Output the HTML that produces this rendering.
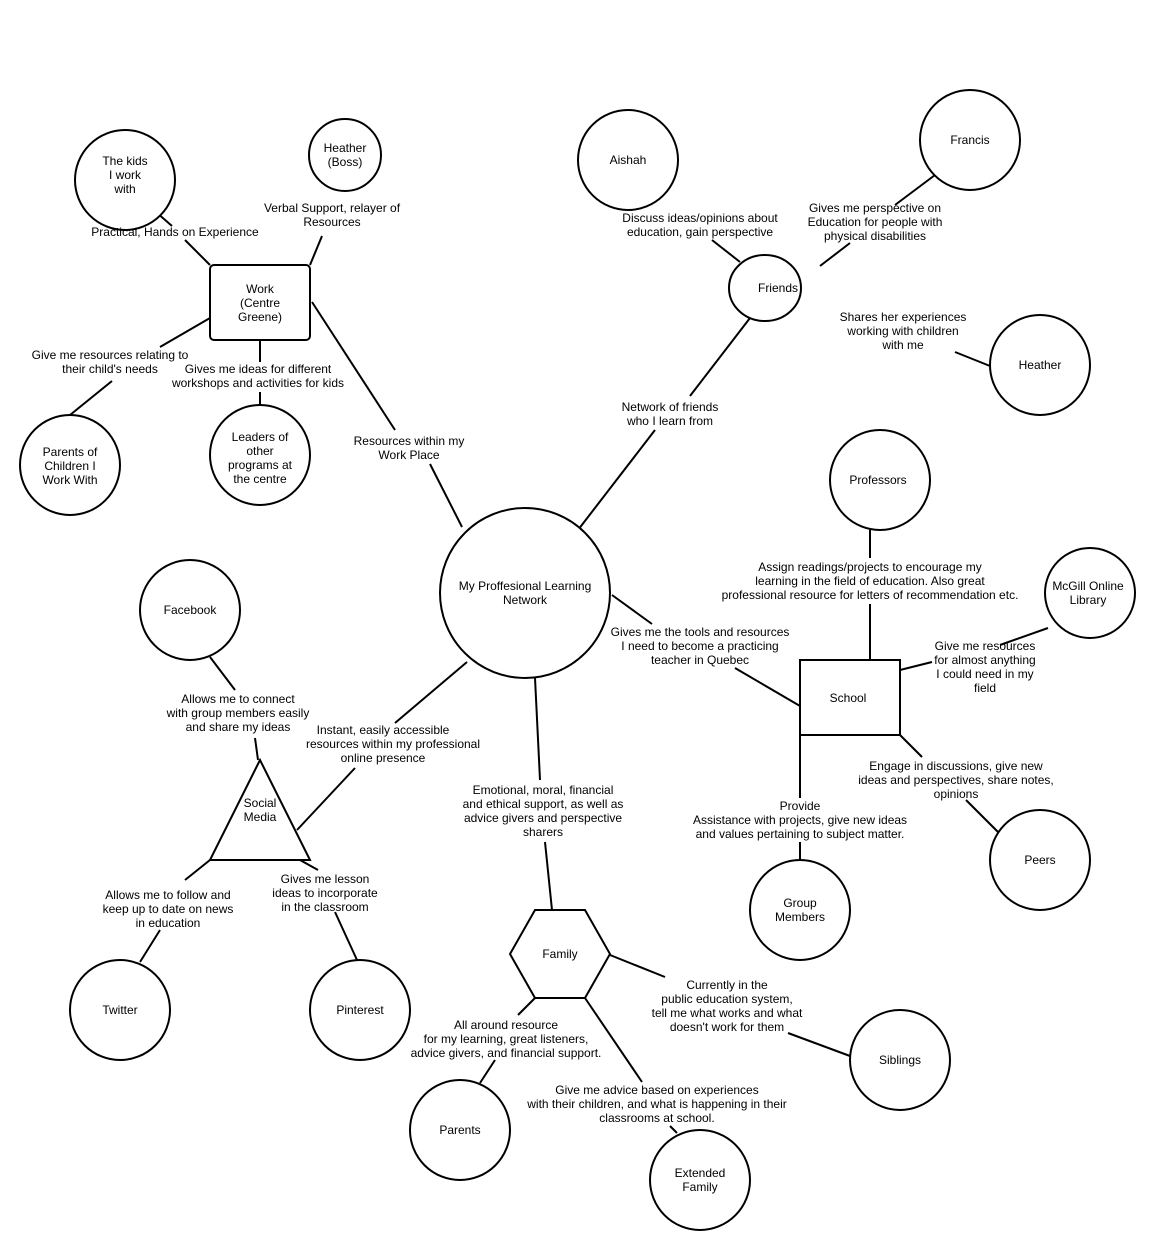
<!DOCTYPE html>
<html><head><meta charset="utf-8"><style>
html,body{margin:0;padding:0;background:#fff}
svg text{font-family:"Liberation Sans",Arial,sans-serif;font-size:12px;fill:#000;text-anchor:middle}
</style></head><body>
<svg width="1166" height="1250" xmlns="http://www.w3.org/2000/svg">
<g stroke="#000" stroke-width="2" fill="none">
<!-- connectors -->
<line x1="148" y1="205" x2="172" y2="226"/><line x1="185" y1="240" x2="210" y2="265"/>
<line x1="322" y1="236" x2="310" y2="265"/>
<line x1="210" y1="318" x2="160" y2="347"/><line x1="112" y1="381" x2="70" y2="415"/>
<line x1="260" y1="340" x2="260" y2="362"/><line x1="260" y1="392" x2="260" y2="405"/>
<line x1="312" y1="302" x2="395" y2="430"/><line x1="430" y1="464" x2="462" y2="527"/>
<line x1="712" y1="240" x2="740" y2="262"/>
<line x1="935" y1="175" x2="895" y2="205"/><line x1="850" y1="243" x2="820" y2="266"/>
<line x1="955" y1="352" x2="990" y2="366"/>
<line x1="750" y1="318" x2="690" y2="396"/><line x1="655" y1="430" x2="578" y2="530"/>
<line x1="870" y1="530" x2="870" y2="558"/><line x1="870" y1="604" x2="870" y2="660"/>
<line x1="1048" y1="628" x2="1000" y2="645"/><line x1="932" y1="662" x2="900" y2="670"/>
<line x1="612" y1="595" x2="652" y2="624"/><line x1="735" y1="668" x2="800" y2="706"/>
<line x1="900" y1="735" x2="922" y2="757"/><line x1="966" y1="800" x2="998" y2="832"/>
<line x1="800" y1="735" x2="800" y2="798"/><line x1="800" y1="842" x2="800" y2="860"/>
<line x1="535" y1="678" x2="540" y2="780"/><line x1="545" y1="842" x2="552" y2="910"/>
<line x1="610" y1="955" x2="665" y2="977"/><line x1="788" y1="1033" x2="850" y2="1056"/>
<line x1="535" y1="998" x2="518" y2="1015"/><line x1="495" y1="1060" x2="480" y2="1083"/>
<line x1="585" y1="998" x2="642" y2="1082"/><line x1="670" y1="1126" x2="677" y2="1133"/>
<line x1="210" y1="657" x2="235" y2="690"/><line x1="255" y1="738" x2="258" y2="760"/>
<line x1="467" y1="662" x2="395" y2="723"/><line x1="355" y1="768" x2="297" y2="830"/>
<line x1="210" y1="860" x2="185" y2="880"/><line x1="160" y1="930" x2="140" y2="962"/>
<line x1="300" y1="860" x2="318" y2="870"/><line x1="335" y1="912" x2="357" y2="960"/>
</g>
<g stroke="#000" stroke-width="2" fill="#fff">
<circle cx="525" cy="593" r="85"/>
<rect x="210" y="265" width="100" height="75" rx="4"/>
<circle cx="125" cy="180" r="50"/>
<circle cx="345" cy="155" r="36"/>
<circle cx="70" cy="465" r="50"/>
<circle cx="260" cy="455" r="50"/>
<circle cx="628" cy="160" r="50"/>
<circle cx="970" cy="140" r="50"/>
<ellipse cx="765" cy="288" rx="36" ry="33"/>
<circle cx="1040" cy="365" r="50"/>
<circle cx="880" cy="480" r="50"/>
<circle cx="1090" cy="593" r="45"/>
<rect x="800" y="660" width="100" height="75"/>
<circle cx="1040" cy="860" r="50"/>
<circle cx="800" cy="910" r="50"/>
<polygon points="535,910 585,910 610,954 585,998 535,998 510,954"/>
<circle cx="900" cy="1060" r="50"/>
<circle cx="460" cy="1130" r="50"/>
<circle cx="700" cy="1180" r="50"/>
<circle cx="190" cy="610" r="50"/>
<polygon points="260,760 310,860 210,860"/>
<circle cx="120" cy="1010" r="50"/>
<circle cx="360" cy="1010" r="50"/>
</g>
<!-- node labels -->
<text x="525" y="590">My  Proffesional Learning</text><text x="525" y="604">Network</text>
<text x="260" y="293">Work</text><text x="260" y="307">(Centre</text><text x="260" y="321">Greene)</text>
<text x="125" y="165">The kids</text><text x="125" y="179">I work</text><text x="125" y="193">with</text>
<text x="345" y="152">Heather</text><text x="345" y="166">(Boss)</text>
<text x="70" y="456">Parents of</text><text x="70" y="470">Children I</text><text x="70" y="484">Work With</text>
<text x="260" y="441">Leaders of</text><text x="260" y="455">other</text><text x="260" y="469">programs at</text><text x="260" y="483">the centre</text>
<text x="628" y="164">Aishah</text>
<text x="970" y="144">Francis</text>
<text x="778" y="292">Friends</text>
<text x="1040" y="369">Heather</text>
<text x="878" y="484">Professors</text>
<text x="1088" y="590">McGill Online</text><text x="1088" y="604">Library</text>
<text x="848" y="702">School</text>
<text x="1040" y="864">Peers</text>
<text x="800" y="907">Group</text><text x="800" y="921">Members</text>
<text x="560" y="958">Family</text>
<text x="900" y="1064">Siblings</text>
<text x="460" y="1134">Parents</text>
<text x="700" y="1177">Extended</text><text x="700" y="1191">Family</text>
<text x="190" y="614">Facebook</text>
<text x="260" y="807">Social</text><text x="260" y="821">Media</text>
<text x="120" y="1014">Twitter</text>
<text x="360" y="1014">Pinterest</text>
<!-- connector labels -->
<text x="175" y="236">Practical, Hands on Experience</text>
<text x="332" y="212">Verbal Support, relayer of</text><text x="332" y="226">Resources</text>
<text x="110" y="359">Give me resources relating to</text><text x="110" y="373">their child's needs</text>
<text x="258" y="373">Gives me ideas for different</text><text x="258" y="387">workshops and activities for kids</text>
<text x="409" y="445">Resources within my</text><text x="409" y="459">Work Place</text>
<text x="700" y="222">Discuss ideas/opinions about</text><text x="700" y="236">education, gain perspective</text>
<text x="875" y="212">Gives me perspective on</text><text x="875" y="226">Education for people with</text><text x="875" y="240">physical disabilities</text>
<text x="903" y="321">Shares her experiences</text><text x="903" y="335">working with children</text><text x="903" y="349">with me</text>
<text x="670" y="411">Network of friends</text><text x="670" y="425">who I learn from</text>
<text x="870" y="571">Assign readings/projects to encourage my</text><text x="870" y="585">learning in the field of education. Also great</text><text x="870" y="599">professional resource for letters of recommendation etc.</text>
<text x="985" y="650">Give me resources</text><text x="985" y="664">for almost anything</text><text x="985" y="678">I could need in my</text><text x="985" y="692">field</text>
<text x="700" y="636">Gives me the tools and resources</text><text x="700" y="650">I need to become a practicing</text><text x="700" y="664">teacher in Quebec</text>
<text x="956" y="770">Engage in discussions, give new</text><text x="956" y="784">ideas and perspectives, share notes,</text><text x="956" y="798">opinions</text>
<text x="800" y="810">Provide</text><text x="800" y="824">Assistance with projects, give new ideas</text><text x="800" y="838">and values pertaining to subject matter.</text>
<text x="543" y="794">Emotional, moral, financial</text><text x="543" y="808">and ethical support, as well as</text><text x="543" y="822">advice givers and perspective</text><text x="543" y="836">sharers</text>
<text x="727" y="989">Currently in the</text><text x="727" y="1003">public education system,</text><text x="727" y="1017">tell me what works and what</text><text x="727" y="1031">doesn't work for them</text>
<text x="506" y="1029">All around resource</text><text x="506" y="1043">for my learning, great listeners,</text><text x="506" y="1057">advice givers, and financial support.</text>
<text x="657" y="1094">Give me advice based on experiences</text><text x="657" y="1108">with their children, and what is happening in their</text><text x="657" y="1122">classrooms at school.</text>
<text x="238" y="703">Allows me to connect</text><text x="238" y="717">with group members easily</text><text x="238" y="731">and share my ideas</text>
<text x="383" y="734">Instant, easily accessible</text><text x="393" y="748">resources within my professional</text><text x="383" y="762">online presence</text>
<text x="168" y="899">Allows me to follow and</text><text x="168" y="913">keep up to date on news</text><text x="168" y="927">in education</text>
<text x="325" y="883">Gives me lesson</text><text x="325" y="897">ideas to incorporate</text><text x="325" y="911">in the classroom</text>
</g>
</svg>
</body></html>
